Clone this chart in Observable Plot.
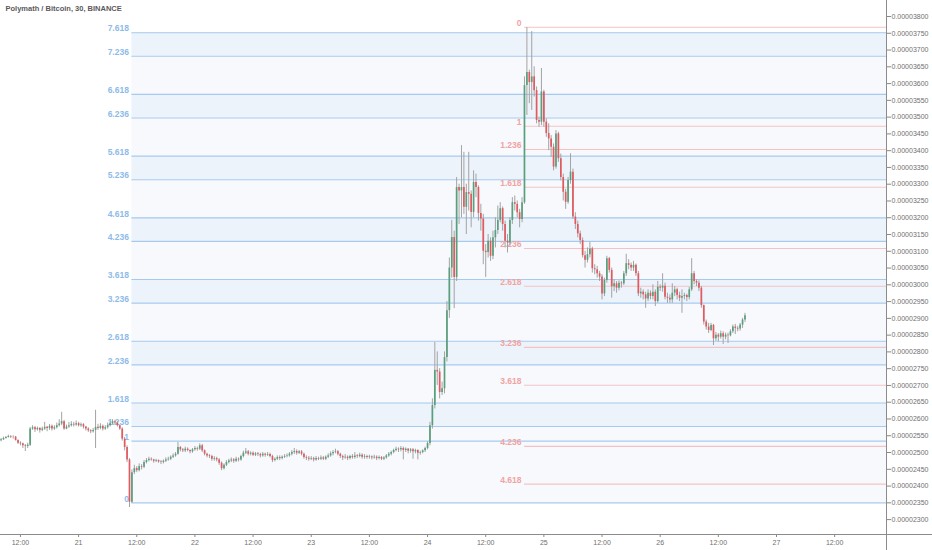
<!DOCTYPE html>
<html><head><meta charset="utf-8">
<script src="https://cdn.jsdelivr.net/npm/d3@7"></script>
<script src="https://cdn.jsdelivr.net/npm/@observablehq/plot@0.6"></script>
<style>
html,body{margin:0;padding:0;background:#fff;}
#chart{position:relative;width:932px;height:550px;overflow:hidden;}
#chart .hline{position:absolute;left:886px;top:533.5px;width:46px;height:1px;background:#8c8c8c;}
#chart .vline{position:absolute;left:885.5px;top:534px;width:1px;height:16px;background:#8c8c8c;}
</style></head><body><div id="chart"><div class="hline"></div><div class="vline"></div></div>
<script>
// ---- data (prices in satoshi, 1e-8 BTC) ----
const title = "Polymath / Bitcoin, 30, BINANCE";
const firstOpen = 2535;
const startTime = "2019-01-20T08:00:00Z";   // first 30-min candle
const close = [
2538,2542,2545,2548,2546,2546,2536,2528,2526,2520,
2518,2522,2570,2574,2568,2572,2566,2570,2575,2572,
2578,2570,2574,2580,2585,2592,2570,2576,2580,2584,
2582,2586,2580,2583,2576,2570,2565,2562,2566,2575,
2572,2578,2570,2574,2580,2586,2592,2588,2580,2570,
2540,2515,2478,2352,2440,2452,2446,2458,2456,2470,
2476,2480,2478,2474,2476,2472,2470,2474,2478,2480,
2486,2490,2495,2515,2508,2505,2510,2506,2502,2508,
2512,2510,2520,2505,2495,2490,2488,2480,2482,2478,
2468,2452,2462,2470,2475,2478,2474,2480,2478,2488,
2498,2502,2495,2498,2492,2496,2494,2490,2495,2492,
2494,2488,2476,2480,2485,2482,2486,2488,2490,2495,
2500,2503,2498,2502,2495,2485,2483,2480,2482,2478,
2482,2480,2484,2480,2486,2490,2496,2500,2502,2495,
2488,2484,2486,2482,2488,2485,2490,2488,2492,2486,
2488,2485,2487,2484,2486,2482,2485,2480,2484,2490,
2495,2500,2506,2510,2508,2512,2506,2510,2504,2508,
2502,2506,2498,2500,2505,2512,2527,2580,2640,2745,
2740,2679,2690,2783,2923,3050,3141,3022,3290,3280,
3290,3231,3275,3270,3216,3305,3290,3213,3196,3100,
3096,3130,3085,3140,3162,3192,3227,3180,3130,3125,
3192,3245,3240,3215,3195,3245,3594,3633,3603,3620,
3579,3490,3485,3575,3485,3451,3435,3410,3351,3450,
3376,3320,3276,3246,3311,3336,3202,3180,3152,3132,
3087,3073,3090,3107,3048,3045,3033,3023,2973,3013,
3078,3043,2994,3003,2990,3005,3003,3033,3063,3058,
3050,3058,3033,2973,2978,2970,2958,2975,2965,2978,
2950,2993,2990,2996,2963,2960,2955,2975,2985,2968,
2960,2965,2968,2962,2985,3033,3010,3005,2990,2938,
2889,2874,2864,2879,2839,2850,2844,2854,2844,2850,
2848,2860,2874,2870,2868,2880,2895,2908
];
const high = [
2542,2546,2548,2552,2550,2550,2548,2538,2532,2528,
2524,2528,2575,2580,2578,2576,2574,2576,2590,2578,
2584,2582,2580,2588,2598,2620,2596,2582,2590,2592,
2590,2594,2590,2588,2586,2578,2574,2568,2572,2626,
2584,2586,2582,2580,2588,2592,2598,2596,2592,2582,
2574,2545,2520,2482,2448,2462,2458,2466,2464,2476,
2482,2486,2484,2480,2480,2478,2476,2478,2484,2486,
2490,2496,2500,2530,2518,2512,2516,2514,2508,2512,
2518,2516,2526,2524,2508,2498,2494,2492,2488,2486,
2482,2472,2466,2476,2480,2484,2482,2486,2484,2492,
2504,2512,2506,2502,2502,2500,2500,2498,2500,2498,
2500,2498,2492,2484,2490,2490,2490,2494,2496,2500,
2506,2512,2508,2506,2506,2498,2490,2488,2488,2486,
2488,2486,2490,2488,2490,2496,2502,2506,2510,2506,
2498,2492,2494,2490,2492,2494,2500,2494,2498,2496,
2494,2492,2492,2490,2492,2490,2490,2488,2488,2494,
2500,2504,2510,2516,2514,2518,2516,2514,2512,2512,
2512,2510,2508,2504,2508,2516,2532,2590,2660,2828,
2800,2750,2710,2800,2950,3080,3192,3160,3320,3300,
3415,3395,3300,3395,3280,3340,3330,3295,3240,3210,
3120,3150,3140,3160,3200,3235,3245,3232,3190,3150,
3200,3260,3265,3250,3225,3260,3620,3767,3640,3755,
3650,3590,3500,3645,3580,3495,3480,3445,3420,3460,
3455,3390,3330,3285,3320,3391,3345,3215,3190,3160,
3140,3100,3110,3127,3112,3060,3055,3040,3030,3020,
3085,3082,3050,3015,3010,3012,3010,3040,3091,3075,
3065,3070,3062,3040,2990,2985,2978,2985,2982,3000,
2985,3010,3000,3033,3005,2975,2970,3003,2995,2990,
2978,2985,2975,2972,2992,3078,3040,3015,3012,2995,
2940,2895,2885,2885,2882,2858,2855,2862,2860,2856,
2856,2866,2880,2882,2876,2885,2900,2915
];
const low = [
2532,2536,2540,2543,2542,2540,2534,2524,2520,2512,
2503,2512,2518,2566,2560,2564,2558,2562,2566,2562,
2566,2564,2566,2570,2576,2580,2566,2568,2572,2576,
2576,2578,2576,2575,2570,2564,2560,2556,2558,2512,
2566,2568,2564,2566,2570,2576,2582,2582,2576,2566,
2534,2505,2470,2336,2348,2434,2440,2442,2448,2452,
2466,2472,2474,2468,2470,2468,2464,2466,2470,2474,
2476,2482,2486,2492,2502,2500,2500,2502,2496,2498,
2504,2504,2506,2500,2490,2484,2482,2474,2474,2472,
2462,2446,2448,2458,2466,2470,2468,2470,2472,2474,
2484,2494,2490,2490,2488,2488,2488,2484,2486,2486,
2488,2484,2470,2472,2476,2476,2478,2482,2484,2486,
2490,2494,2492,2494,2490,2480,2476,2474,2476,2472,
2474,2476,2476,2476,2476,2482,2486,2490,2496,2490,
2482,2476,2480,2476,2478,2480,2480,2482,2484,2480,
2480,2480,2480,2478,2480,2476,2478,2476,2476,2480,
2486,2490,2496,2502,2500,2502,2478,2500,2496,2498,
2480,2496,2478,2492,2496,2500,2508,2520,2570,2630,
2700,2660,2670,2675,2770,2900,3020,2929,3010,3180,
3200,3210,3150,3220,3170,3200,3260,3190,3160,3060,
3022,3080,3070,3075,3110,3150,3185,3160,3110,3095,
3115,3180,3220,3200,3170,3185,3240,3505,3540,3520,
3560,3480,3470,3475,3470,3440,3400,3380,3340,3345,
3365,3310,3250,3225,3240,3300,3195,3165,3140,3120,
3080,3050,3065,3080,3035,3030,3020,3010,2955,2965,
3005,3035,2960,2980,2975,2982,2990,2998,3025,3045,
3040,3040,3025,2965,2960,2955,2930,2950,2955,2955,
2935,2945,2980,2978,2955,2945,2945,2945,2965,2955,
2950,2915,2955,2950,2955,2980,3000,2995,2980,2930,
2880,2865,2855,2860,2819,2832,2830,2838,2822,2836,
2825,2845,2855,2852,2860,2862,2870,2888
];
// Trend-based Fibonacci extensions
const blueLevels = [0,1,1.236,1.618,2.236,2.618,3.236,3.618,4.236,4.618,5.236,5.618,6.236,6.618,7.236,7.618];
const blueZero = 2350, blueOne = 2534, blueStartIndex = 54;
const redLevels = [0,1,1.236,1.618,2.236,2.618,3.236,3.618,4.236,4.618];
const redZero = 3768, redOne = 3473, redStartIndex = 216;
const yTicks = [2300,2350,2400,2450,2500,2550,2600,2650,2700,2750,2800,2850,2900,2950,3000,3050,3100,3150,3200,3250,3300,3350,3400,3450,3500,3550,3600,3650,3700,3750,3800];
const xTicks = ["2019-01-20T12:00Z","2019-01-21T00:00Z","2019-01-21T12:00Z","2019-01-22T00:00Z","2019-01-22T12:00Z","2019-01-23T00:00Z","2019-01-23T12:00Z","2019-01-24T00:00Z","2019-01-24T12:00Z","2019-01-25T00:00Z","2019-01-25T12:00Z","2019-01-26T00:00Z","2019-01-26T12:00Z","2019-01-27T00:00Z","2019-01-27T12:00Z"].map(s => new Date(s));
const xDomain = [new Date("2019-01-20T07:53:00Z"), new Date("2019-01-27T22:42:00Z")];
const yDomain = [2255.6, 3847.7];

// ---- build tables ----
const t0 = new Date(startTime).getTime();
const HALF_HOUR = 30 * 60 * 1000;
const candles = close.map((c, i) => {
  const o = i === 0 ? firstOpen : close[i - 1];
  return {t: new Date(t0 + i * HALF_HOUR), o, c,
          h: Math.max(high[i], o, c), l: Math.min(low[i], o, c)};
});
const UP = "#5a9f7c", DOWN = "#e3595e", WICK = "#a3a3a3";
const fibRows = (levels, zero, one, startIdx) => levels.map(lv => ({
  level: lv, p: zero + lv * (one - zero),
  x1: candles[startIdx].t, x2: xDomain[1],
  label: String(lv)
}));
const blue = fibRows(blueLevels, blueZero, blueOne, blueStartIndex);
const red = fibRows(redLevels, redZero, redOne, redStartIndex);
const bands = blue.slice(0, -1).map((r, k) => {
  const frac = Math.round((r.level % 1) * 1000);
  return {x1: r.x1, x2: r.x2, y1: r.p, y2: blue[k + 1].p, fill: frac === 236 ? "#edf3fb" : "#f7f9fd"};
});

const FONT = "'Liberation Sans', Arial, sans-serif";
const chart = Plot.plot({
  width: 932, height: 550,
  marginLeft: 0, marginRight: 46, marginTop: 0, marginBottom: 16,
  style: {fontFamily: FONT, fontSize: "7px", color: "#707070", background: "#fff"},
  x: {type: "utc", domain: xDomain},
  y: {domain: yDomain},
  color: {type: "identity"},
  marks: [
    Plot.rect(bands, {x1: "x1", x2: "x2", y1: "y1", y2: "y2", fill: "fill"}),
    Plot.ruleY(blue, {x1: "x1", x2: "x2", y: "p", stroke: "#a6caee", strokeWidth: 1.1}),
    Plot.text(blue, {x: "x1", y: "p", text: "label", textAnchor: "end", dx: -3, dy: -4,
      fill: "#8dbbe9", fontSize: 8.5, fontWeight: "bold"}),
    Plot.ruleY(red, {x1: "x1", x2: "x2", y: "p", stroke: "#f3c3c3", strokeWidth: 1.1}),
    Plot.text(red, {x: "x1", y: "p", text: "label", textAnchor: "end", dx: -3, dy: -4,
      fill: "#f0a3a3", fontSize: 8.5, fontWeight: "bold"}),
    Plot.ruleX(candles, {x: "t", y1: "l", y2: "h", stroke: WICK, strokeWidth: 1}),
    Plot.ruleX(candles, {x: "t", y1: "o", y2: "c", stroke: d => d.c >= d.o ? UP : DOWN, strokeWidth: 1.7}),
    Plot.axisX({ticks: xTicks, tickFormat: d => d.getUTCHours() === 0 ? String(d.getUTCDate()) : "12:00",
      tickSize: 3, tickPadding: 3, stroke: "#888", fill: "#6f6f6f", fontSize: 7}),
    Plot.axisY({anchor: "right", ticks: yTicks, tickFormat: d => (d / 1e8).toFixed(8),
      tickSize: 4, tickPadding: 1, stroke: "#888", fill: "#6f6f6f", fontSize: 7}),
    Plot.frame({anchor: "bottom", stroke: "#8c8c8c"}),
    Plot.frame({anchor: "right", stroke: "#8c8c8c"}),
    Plot.text([title], {frameAnchor: "top-left", text: d => d, dx: 5, dy: 5, lineAnchor: "top",
      textAnchor: "start", fill: "#5a5a5a", fontSize: 7.5, fontWeight: "bold"})
  ]
});
document.getElementById("chart").appendChild(chart);
</script></body></html>
